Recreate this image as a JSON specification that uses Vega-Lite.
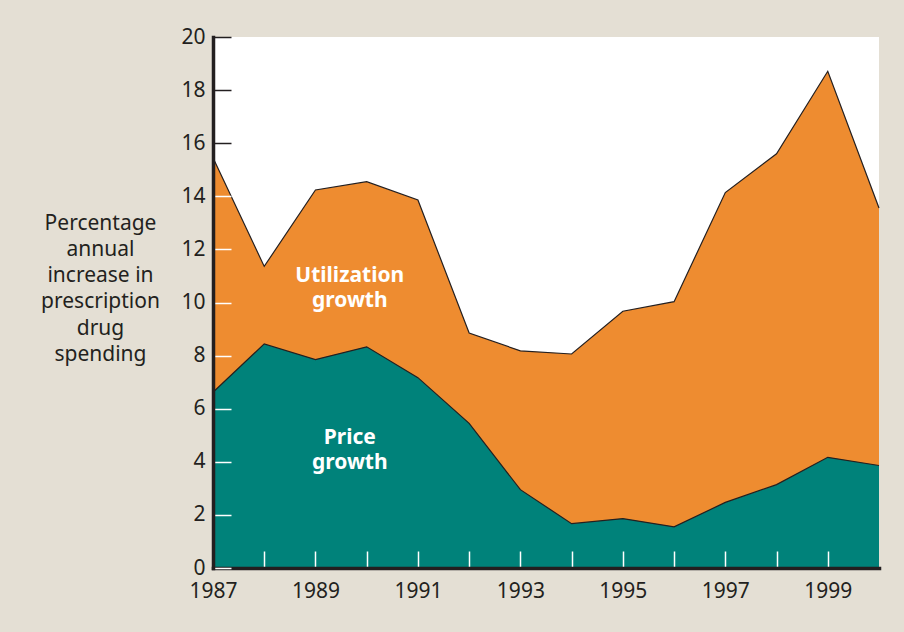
{
  "$schema": "https://vega.github.io/schema/vega-lite/v6.json",
  "width": 666,
  "height": 531,
  "autosize": "none",
  "padding": {"left": 213, "top": 37, "right": 25, "bottom": 64},
  "background": "#E4DFD4",
  "config": {
    "view": {"fill": "white", "stroke": null},
    "font": "Noto Sans"
  },
  "datasets": {
    "growth": [
      {"year": 1987, "total": 15.45, "price": 6.62},
      {"year": 1988, "total": 11.36, "price": 8.44},
      {"year": 1989, "total": 14.24, "price": 7.85},
      {"year": 1990, "total": 14.55, "price": 8.33},
      {"year": 1991, "total": 13.86, "price": 7.17},
      {"year": 1992, "total": 8.85, "price": 5.45},
      {"year": 1993, "total": 8.18, "price": 2.95},
      {"year": 1994, "total": 8.06, "price": 1.67},
      {"year": 1995, "total": 9.67, "price": 1.86},
      {"year": 1996, "total": 10.03, "price": 1.55},
      {"year": 1997, "total": 14.14, "price": 2.47},
      {"year": 1998, "total": 15.6, "price": 3.14},
      {"year": 1999, "total": 18.71, "price": 4.17},
      {"year": 2000, "total": 13.56, "price": 3.86}
    ],
    "labels": [
      {"year": 1989.67, "value": 11.0, "label": "Utilization"},
      {"year": 1989.67, "value": 10.05, "label": "growth"},
      {"year": 1989.67, "value": 4.9, "label": "Price"},
      {"year": 1989.67, "value": 3.95, "label": "growth"}
    ]
  },
  "layer": [
    {
      "data": {"name": "growth"},
      "mark": {"type": "area", "color": "#EE8C30", "opacity": 1, "line": {"color": "#231f20", "strokeWidth": 1.2}},
      "encoding": {
        "x": {
          "field": "year", "type": "quantitative",
          "scale": {"domain": [1987, 2000], "nice": false, "zero": false},
          "axis": {
            "title": null,
            "zindex": 2,
            "values": [1987, 1988, 1989, 1990, 1991, 1992, 1993, 1994, 1995, 1996, 1997, 1998, 1999],
            "labelExpr": "datum.value % 2 == 1 ? datum.value + '' : ''",
            "grid": false,
            "domainColor": "#231f20",
            "domainWidth": 3.5,
            "domainCap": "square",
            "tickColor": "white",
            "tickWidth": 1.5,
            "tickSize": -17,
            "labelFontSize": 21,
            "labelColor": "#231f20",
            "labelPadding": 29,
            "labelFlush": false
          }
        },
        "y": {
          "field": "total", "type": "quantitative",
          "scale": {"domain": [0, 20], "nice": false},
          "axis": {
            "title": ["Percentage", "annual", "increase in", "prescription", "drug", "spending"],
            "zindex": 2,
            "titleAngle": 0,
            "titleAlign": "center",
            "titleBaseline": "top",
            "titleX": -113,
            "titleY": 175,
            "titleFontSize": 21,
            "titleFontWeight": "normal",
            "titleColor": "#231f20",
            "titleLineHeight": 26.3,
            "values": [0, 2, 4, 6, 8, 10, 12, 14, 16, 18, 20],
            "grid": false,
            "domainColor": "#231f20",
            "domainWidth": 3.5,
            "domainCap": "square",
            "tickColor": {"condition": {"test": "datum.value >= 16", "value": "#231f20"}, "value": "white"},
            "tickWidth": 1.5,
            "tickSize": -18,
            "labelFontSize": 21,
            "labelColor": "#231f20",
            "labelPadding": 26
          }
        }
      }
    },
    {
      "data": {"name": "growth"},
      "mark": {"type": "area", "color": "#00827A", "opacity": 1, "line": {"color": "#231f20", "strokeWidth": 1.2}},
      "encoding": {
        "x": {"field": "year", "type": "quantitative"},
        "y": {"field": "price", "type": "quantitative"}
      }
    },
    {
      "data": {"name": "labels"},
      "mark": {"type": "text", "color": "white", "fontSize": 21, "fontWeight": "bold", "align": "center", "baseline": "middle"},
      "encoding": {
        "x": {"field": "year", "type": "quantitative"},
        "y": {"field": "value", "type": "quantitative"},
        "text": {"field": "label", "type": "nominal"}
      }
    }
  ]
}
